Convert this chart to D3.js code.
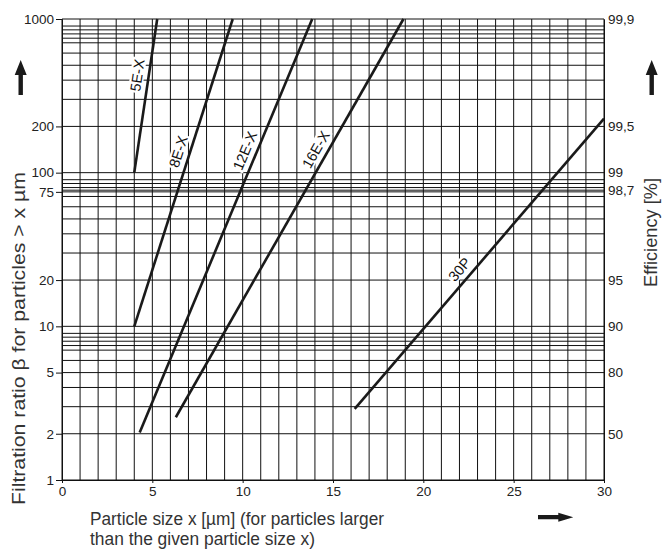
<!DOCTYPE html>
<html><head><meta charset="utf-8">
<script src="https://cdn.jsdelivr.net/npm/d3@7"></script>
<style>body{margin:0;background:#fff}</style>
</head><body><svg id="c" width="662" height="549"></svg>
<script>
// ---- data ----
const xTicks = [0, 5, 10, 15, 20, 25, 30];
const xGrid = d3.range(0, 31, 1);
const yTickValues = [1, 2, 5, 10, 20, 75, 100, 200, 1000];
const yTickLabels = ["1", "2", "5", "10", "20", "75", "100", "200", "1000"];
const effTickBeta = [2, 5, 10, 20, 76.92, 100, 200, 1000];
const effTickLabels = ["50", "80", "90", "95", "98,7", "99", "99,5", "99,9"];
const yGrid = [1, 2, 3, 4, 5, 6, 7, 7.5, 8, 8.5, 9, 10,
  20, 30, 40, 50, 60, 70, 75, 76.92, 80, 85, 90, 100,
  200, 300, 400, 500, 600, 700, 750, 800, 850, 900, 1000];
const seriesNames = ["5E-X", "8E-X", "12E-X", "16E-X", "30P"];
const startX = [4.0, 4.0, 4.3, 6.3, 16.2];
const startBeta = [100, 10, 2.04, 2.56, 2.9];
const endX = [5.27, 9.45, 13.85, 18.9, 30];
const endBeta = [1000, 1000, 1000, 1000, 225];
const labelBeta = [420, 130, 130, 130, 21];
const xTitleLines = ["Particle size x [µm] (for particles larger", "than the given particle size x)"];

// ---- chart ----
const svg = d3.select("#c");
const x = d3.scaleLinear().domain([0, 30]).range([62, 604]);
const y = d3.scaleLog().domain([1, 1000]).range([480, 19]);
const lineCol = "#1a1a1a";
const numFont = "'Liberation Sans', Arial, Helvetica, sans-serif";

const g = svg.append("g");
g.selectAll("line.vg").data(xGrid).join("line")
  .attr("x1", d => x(d)).attr("x2", d => x(d))
  .attr("y1", y(1000)).attr("y2", y(1))
  .attr("stroke", "#111").attr("stroke-width", 1);
g.selectAll("line.hg").data(yGrid).join("line")
  .attr("x1", x(0)).attr("x2", x(30))
  .attr("y1", d => y(d)).attr("y2", d => y(d))
  .attr("stroke", "#111").attr("stroke-width", 1);

// left axis
const yAxis = d3.axisLeft(y).tickValues(yTickValues)
  .tickFormat((d, i) => yTickLabels[i]).tickSize(6).tickPadding(2);
const ga = svg.append("g").attr("transform", `translate(${x(0)},0)`).call(yAxis);
ga.select(".domain").attr("stroke", "#111");
ga.selectAll(".tick line").attr("stroke", "#111");
ga.selectAll("text").style("font-family", numFont)
  .style("font-size", "13.5px").attr("fill", "#222");

// right axis (efficiency)
const rAxis = d3.axisRight(y).tickValues(effTickBeta)
  .tickFormat((d, i) => effTickLabels[i]).tickSize(0).tickPadding(4);
const gr = svg.append("g").attr("transform", `translate(${x(30)},0)`).call(rAxis);
gr.select(".domain").attr("stroke", "#111");
gr.selectAll("text").style("font-family", numFont)
  .style("font-size", "13.5px").attr("fill", "#222");

// bottom axis
const xAxis = d3.axisBottom(x).tickValues(xTicks).tickSize(3).tickPadding(3);
const gb = svg.append("g").attr("transform", `translate(0,${y(1)})`).call(xAxis);
gb.select(".domain").attr("stroke", "#111");
gb.selectAll(".tick line").attr("stroke", "#111");
gb.selectAll("text").style("font-family", numFont)
  .style("font-size", "13.5px").attr("fill", "#222");

// series lines
const sdata = seriesNames.map((n, i) => ({
  name: n, pts: [[startX[i], startBeta[i]], [endX[i], endBeta[i]]], lb: labelBeta[i]
}));
const line = d3.line().x(d => x(d[0])).y(d => y(d[1]));
svg.selectAll("path.s").data(sdata).join("path")
  .attr("d", d => line(d.pts)).attr("fill", "none")
  .attr("stroke", lineCol).attr("stroke-width", 2.6);

// series labels with white background
sdata.forEach(d => {
  const [p0, p1] = d.pts;
  const px0 = x(p0[0]), py0 = y(p0[1]), px1 = x(p1[0]), py1 = y(p1[1]);
  const ang = Math.atan2(py1 - py0, px1 - px0);
  const ly = y(d.lb);
  const t = (ly - py0) / (py1 - py0);
  const lx = px0 + t * (px1 - px0);
  const off = 11.5;
  const nx = Math.sin(ang) * off, ny = -Math.cos(ang) * off;
  const lg = svg.append("g")
    .attr("transform", `translate(${lx + nx},${ly + ny}) rotate(${ang * 180 / Math.PI})`);
  const txt = lg.append("text").text(d.name)
    .attr("text-anchor", "middle").attr("dy", "0.36em")
    .style("font-family", numFont)
    .style("font-size", "14.5px").attr("fill", "#111");
  const bb = txt.node().getBBox();
  lg.insert("rect", "text").attr("x", bb.x - 1.5).attr("y", -7)
    .attr("width", bb.width + 3).attr("height", 14).attr("fill", "#fff");
});

// titles
const tf = "'Liberation Sans', Arial, sans-serif";
svg.append("text").attr("transform", "translate(25,505) rotate(-90)")
  .style("font-family", tf).style("font-size", "18.5px").attr("fill", "#333")
  .attr("textLength", 333).attr("lengthAdjust", "spacingAndGlyphs")
  .text("Filtration ratio β for particles > x µm");
svg.append("text").attr("transform", "translate(657,287) rotate(-90)")
  .style("font-family", tf).style("font-size", "17.5px").attr("fill", "#333")
  .attr("textLength", 109).attr("lengthAdjust", "spacingAndGlyphs")
  .text("Efficiency  [%]");
const xt = svg.append("text").attr("x", 90).attr("y", 525)
  .style("font-family", tf).style("font-size", "17.5px").attr("fill", "#333");
xt.append("tspan").attr("x", 90).attr("y", 525)
  .attr("textLength", 294).attr("lengthAdjust", "spacingAndGlyphs").text(xTitleLines[0]);
xt.append("tspan").attr("x", 90).attr("y", 545)
  .attr("textLength", 225).attr("lengthAdjust", "spacingAndGlyphs").text(xTitleLines[1]);

// arrows
const arrowCol = "#1a1a1a";
function upArrow(cx) {
  svg.append("path").attr("fill", arrowCol)
    .attr("d", `M${cx - 2.2},95 L${cx - 2.2},75 L${cx - 6},75 L${cx},60 L${cx + 6},75 L${cx + 2.2},75 L${cx + 2.2},95 Z`);
}
upArrow(20.7);
upArrow(651.7);
svg.append("path").attr("fill", arrowCol)
  .attr("d", "M538,515.1 L558.3,515.1 L558.3,512.7 L573.3,517.2 L558.3,521.7 L558.3,519.3 L538,519.3 Z");
</script>
</body></html>
